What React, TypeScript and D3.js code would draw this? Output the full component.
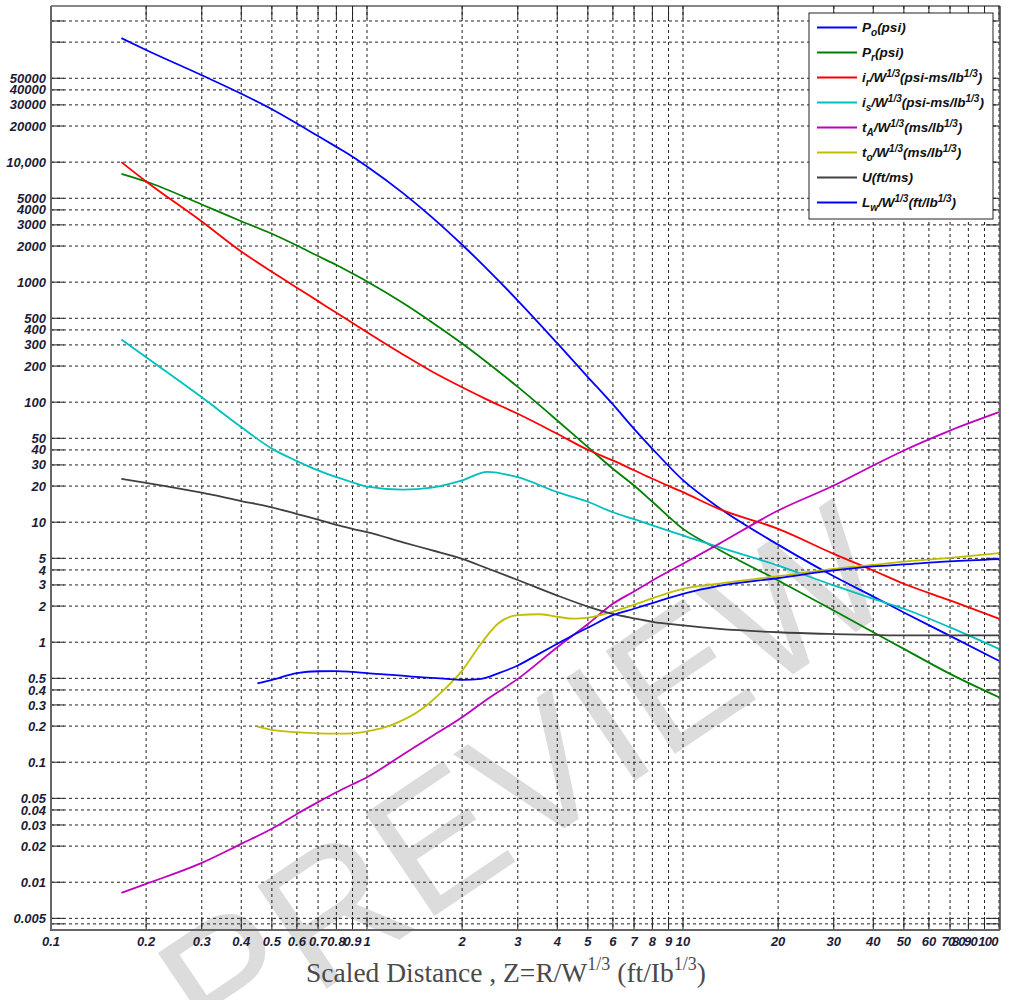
import { useEffect, useRef } from "react";
import * as d3 from "d3";

// scaled distance grid for curves that start at the charge surface
const zFull = [0.167, 0.2, 0.3, 0.4, 0.5, 0.6, 0.7, 0.8, 0.9, 1, 1.3, 1.6, 2, 2.4, 3, 4, 5, 6, 7, 8, 10, 13, 20, 30, 40, 50, 70, 100];
const pso = [108000, 86000, 53000, 37150, 27600, 21000, 16500, 13400, 11100, 9200, 5520, 3500, 2050, 1285, 703, 310, 162, 95.7, 60, 40.9, 22.4, 13.2, 6.5, 3.54, 2.4, 1.77, 1.13, 0.7];
const pr = [8000, 6900, 4440, 3220, 2530, 2020, 1650, 1390, 1180, 1014, 670, 466, 308, 214, 134, 70.4, 42.2, 27.9, 20.2, 14.8, 8.8, 5.9, 3.27, 1.84, 1.21, 0.88, 0.545, 0.348];
const ir = [10000, 6900, 3200, 1800, 1220, 899, 695, 556, 457, 383, 250, 181, 133, 105, 80, 54.5, 40.1, 32.7, 27.1, 23, 17.8, 12.9, 8.8, 5.45, 3.96, 3.07, 2.23, 1.57];
const is = [333, 237, 110, 62, 41, 32.3, 27, 23.7, 21.5, 19.8, 18.7, 19.4, 22.3, 26.3, 23.7, 17.8, 14.8, 12.1, 10.6, 9.4, 7.75, 6.19, 4.35, 2.97, 2.3, 1.9, 1.33, 0.88];
const ta = [0.00816, 0.0097, 0.0145, 0.0209, 0.0279, 0.0371, 0.0465, 0.0562, 0.0655, 0.075, 0.116, 0.164, 0.237, 0.335, 0.495, 0.908, 1.42, 2.09, 2.65, 3.27, 4.5, 6.6, 12.5, 20.2, 29.7, 39.6, 58, 82.5];
const u = [23, 21.3, 17.6, 15, 13.3, 11.7, 10.5, 9.5, 8.8, 8.26, 6.8, 5.84, 4.95, 4.13, 3.3, 2.45, 1.98, 1.72, 1.58, 1.48, 1.38, 1.29, 1.21, 1.17, 1.15, 1.14, 1.14, 1.14];

// grid for the duration / wavelength curves
const zLate = [0.45, 0.5, 0.6, 0.7, 0.8, 0.9, 1, 1.2, 1.5, 1.75, 2, 2.3, 2.6, 3, 3.5, 4, 4.5, 5, 6, 7, 8, 10, 13, 20, 30, 40, 50, 70, 100];
const to = [0.198, 0.186, 0.178, 0.174, 0.173, 0.174, 0.181, 0.205, 0.28, 0.4, 0.58, 0.98, 1.43, 1.68, 1.71, 1.63, 1.57, 1.6, 1.8, 2.05, 2.32, 2.78, 3.08, 3.55, 4.09, 4.4, 4.7, 5.05, 5.52];
const lw = [0.455, 0.486, 0.552, 0.573, 0.575, 0.565, 0.552, 0.535, 0.51, 0.497, 0.486, 0.495, 0.55, 0.64, 0.8, 0.97, 1.15, 1.32, 1.68, 1.9, 2.12, 2.53, 2.95, 3.42, 3.96, 4.28, 4.45, 4.72, 4.93];

const xTicks = [0.1, 0.2, 0.3, 0.4, 0.5, 0.6, 0.7, 0.8, 0.9, 1, 2, 3, 4, 5, 6, 7, 8, 9, 10, 20, 30, 40, 50, 60, 70, 80, 90, 100];
const yGrid = [0.0045, 0.005, 0.01, 0.02, 0.03, 0.04, 0.05, 0.1, 0.2, 0.3, 0.4, 0.5, 1, 2, 3, 4, 5, 10, 20, 30, 40, 50, 100, 200, 300, 400, 500, 1000, 2000, 3000, 4000, 5000, 10000, 20000, 30000, 40000, 50000, 100000, 150000];
const yUnlabeled = [0.0045, 100000, 150000];

type Seg = [string, string];
const series: { z: number[]; v: number[]; color: string; label: Seg[] }[] = [
  { z: zFull, v: pso, color: "#0000ff", label: [["P", ""], ["o", "sub"], ["(psi)", ""]] },
  { z: zFull, v: pr, color: "#008000", label: [["P", ""], ["r", "sub"], ["(psi)", ""]] },
  { z: zFull, v: ir, color: "#ff0000", label: [["i", ""], ["r", "sub"], ["/W", ""], ["1/3", "sup"], ["(psi-ms/lb", ""], ["1/3", "sup"], [")", ""]] },
  { z: zFull, v: is, color: "#00bfbf", label: [["i", ""], ["s", "sub"], ["/W", ""], ["1/3", "sup"], ["(psi-ms/lb", ""], ["1/3", "sup"], [")", ""]] },
  { z: zFull, v: ta, color: "#bf00bf", label: [["t", ""], ["A", "sub"], ["/W", ""], ["1/3", "sup"], ["(ms/lb", ""], ["1/3", "sup"], [")", ""]] },
  { z: zLate, v: to, color: "#bfbf00", label: [["t", ""], ["o", "sub"], ["/W", ""], ["1/3", "sup"], ["(ms/lb", ""], ["1/3", "sup"], [")", ""]] },
  { z: zFull, v: u, color: "#404040", label: [["U(ft/ms)", ""]] },
  { z: zLate, v: lw, color: "#0000ff", label: [["L", ""], ["w", "sub"], ["/W", ""], ["1/3", "sup"], ["(ft/lb", ""], ["1/3", "sup"], [")", ""]] },
];

const W = 1013;
const H = 1000;

export default function App() {
  const ref = useRef<SVGSVGElement>(null);

  useEffect(() => {
    const svg = d3.select(ref.current);
    svg.selectAll("*").remove();

    const left = 51, right = 999, top = 6, bottom = 930;
    const x = d3.scaleLog().domain([0.1, 100]).range([left, right]);
    const y = d3.scaleLog().domain([0.004, 200000]).range([bottom, top]);

    svg.append("rect").attr("width", W).attr("height", H).attr("fill", "#fff");

    // watermark
    svg.append("text")
      .text("PREVIEW")
      .attr("transform", "translate(559,832) rotate(-34)")
      .attr("text-anchor", "middle")
      .attr("font-family", "Liberation Sans, Arial, sans-serif")
      .attr("font-size", 180)
      .attr("fill", "#dcdcdc");

    // grid
    const grid = svg.append("g").attr("stroke", "#222").attr("stroke-width", 1).attr("stroke-dasharray", "3,3");
    xTicks.forEach(t => {
      grid.append("line").attr("x1", x(t)).attr("x2", x(t)).attr("y1", top).attr("y2", bottom);
    });
    yGrid.forEach(t => {
      grid.append("line").attr("x1", left).attr("x2", right).attr("y1", y(t)).attr("y2", y(t));
    });

    // inward ticks
    const ticks = svg.append("g").attr("stroke", "#222").attr("stroke-width", 1);
    const tl = 13;
    xTicks.forEach(t => {
      ticks.append("line").attr("x1", x(t)).attr("x2", x(t)).attr("y1", top).attr("y2", top + tl);
      ticks.append("line").attr("x1", x(t)).attr("x2", x(t)).attr("y1", bottom).attr("y2", bottom - tl);
    });
    yGrid.forEach(t => {
      ticks.append("line").attr("x1", right).attr("x2", right - tl).attr("y1", y(t)).attr("y2", y(t));
      ticks.append("line").attr("x1", left).attr("x2", left + tl).attr("y1", y(t)).attr("y2", y(t));
    });

    // curves
    const line = d3.line<[number, number]>()
      .x(d => x(d[0]))
      .y(d => y(d[1]))
      .curve(d3.curveMonotoneX);
    series.forEach(s => {
      const pts = s.z.map((z, i) => [z, s.v[i]] as [number, number]);
      svg.append("path")
        .attr("d", line(pts))
        .attr("fill", "none")
        .attr("stroke", s.color)
        .attr("stroke-width", 1.8);
    });

    // frame
    svg.append("line").attr("x1", left).attr("x2", right + 1).attr("y1", top).attr("y2", top).attr("stroke", "#111").attr("stroke-width", 1.2);
    svg.append("line").attr("x1", right + 1).attr("x2", right + 1).attr("y1", top).attr("y2", bottom).attr("stroke", "#444").attr("stroke-width", 1.5);
    svg.append("line").attr("x1", left).attr("x2", left).attr("y1", top).attr("y2", bottom + 1).attr("stroke", "#666").attr("stroke-width", 2);
    svg.append("line").attr("x1", left).attr("x2", right + 1).attr("y1", bottom).attr("y2", bottom).attr("stroke", "#666").attr("stroke-width", 2);

    // tick labels
    const lab = svg.append("g")
      .attr("font-family", "Liberation Sans, Arial, sans-serif")
      .attr("font-weight", "bold")
      .attr("font-style", "italic")
      .attr("font-size", 13)
      .attr("fill", "#1c1c38");
    yGrid.filter(t => !yUnlabeled.includes(t)).forEach(t => {
      lab.append("text")
        .attr("x", left - 5)
        .attr("y", y(t))
        .attr("dy", "0.35em")
        .attr("text-anchor", "end")
        .text(t === 10000 ? "10,000" : String(t));
    });
    const xShift: Record<number, number> = { 70: -2, 80: -10, 90: -14, 100: -11 };
    xTicks.forEach(t => {
      lab.append("text")
        .attr("x", x(t) + (xShift[t] || 0))
        .attr("y", bottom + 16)
        .attr("text-anchor", "middle")
        .attr("letter-spacing", t >= 70 ? -0.8 : 0)
        .text(String(t));
    });

    // axis title
    const title = svg.append("text")
      .attr("x", 506)
      .attr("y", 982)
      .attr("text-anchor", "middle")
      .attr("font-family", "Liberation Serif, Times New Roman, serif")
      .attr("font-size", 27.5)
      .attr("fill", "#4a4a4a");
    title.append("tspan").text("Scaled Distance , Z=R/W");
    title.append("tspan").attr("font-size", 18).attr("dy", -12).text("1/3");
    title.append("tspan").attr("dy", 12).text(" (ft/Ib");
    title.append("tspan").attr("font-size", 18).attr("dy", -12).text("1/3");
    title.append("tspan").attr("dy", 12).text(")");

    // legend
    const lg = svg.append("g");
    lg.append("rect")
      .attr("x", 809).attr("y", 13).attr("width", 184).attr("height", 206)
      .attr("fill", "#fff").attr("stroke", "#222").attr("stroke-width", 1);
    const row = d3.scaleLinear().domain([0, series.length - 1]).range([27.5, 202.5]);
    series.forEach((s, i) => {
      const yy = row(i);
      lg.append("line").attr("x1", 817).attr("x2", 857).attr("y1", yy).attr("y2", yy)
        .attr("stroke", s.color).attr("stroke-width", 2);
      const t = lg.append("text")
        .attr("x", 862).attr("y", yy + 4.5)
        .attr("font-family", "Liberation Sans, Arial, sans-serif")
        .attr("font-weight", "bold").attr("font-style", "italic")
        .attr("font-size", 13.5).attr("fill", "#111");
      let shift = 0;
      s.label.forEach(([txt, kind]) => {
        const target = kind === "sub" ? 4 : kind === "sup" ? -5 : 0;
        const sp = t.append("tspan").attr("dy", target - shift).text(txt);
        if (kind) sp.attr("font-size", 10);
        shift = target;
      });
    });
  }, []);

  return (
    <svg ref={ref} width={W} height={H} style={{ position: "absolute", left: 0, top: 0, display: "block" }} />
  );
}
